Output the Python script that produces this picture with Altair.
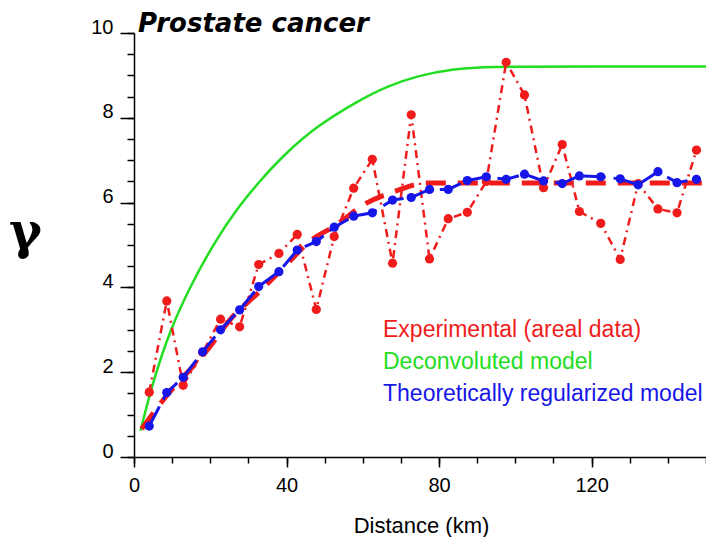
import altair as alt
import pandas as pd

# ---- data ----
distance_km = [4.0, 8.6, 12.9, 18.0, 22.7, 27.7, 32.7, 38.0, 42.8, 47.8,
               52.5, 57.6, 62.5, 67.8, 72.7, 77.5, 82.4, 87.4, 92.4, 97.6,
               102.4, 107.4, 112.3, 116.8, 122.4, 127.5, 132.2, 137.4, 142.4, 147.5]
experimental = [1.53, 3.68, 1.69, 2.47, 3.25, 3.07, 4.54, 4.80, 5.25, 3.48,
                5.20, 6.34, 7.02, 4.57, 8.07, 4.67, 5.62, 5.77, 6.50, 9.31,
                8.54, 6.35, 7.37, 5.79, 5.51, 4.66, 6.45, 5.85, 5.76, 7.24]
regularized = [0.73, 1.52, 1.88, 2.48, 3.00, 3.47, 4.02, 4.37, 4.88, 5.08,
               5.42, 5.68, 5.76, 6.06, 6.12, 6.31, 6.31, 6.52, 6.61, 6.55,
               6.67, 6.51, 6.45, 6.63, 6.61, 6.56, 6.42, 6.73, 6.47, 6.55]

deconv_x = [1.7, 5.1, 9.5, 14.7, 20.8, 26.9, 32.9, 39.0, 47.8, 59.1, 66.5, 74.7, 83.4, 92.1, 120.0, 150.0]
deconv_y = [0.62, 1.82, 3.00, 4.02, 5.02, 5.85, 6.50, 7.10, 7.80, 8.42, 8.75, 9.00, 9.15, 9.21, 9.21, 9.21]

model_x = [2.0, 7.7, 19.9, 25.1, 32.9, 39.9, 46.0, 53.0, 60.8, 68.6, 76.5, 85.0, 150.0]
model_y = [0.66, 1.35, 2.60, 3.23, 3.90, 4.53, 5.08, 5.47, 5.98, 6.27, 6.46, 6.46, 6.46]

x_major = [0, 40, 80, 120]
x_minor = [0, 10, 20, 30, 40, 50, 60, 70, 80, 90, 100, 110, 120, 130, 140, 150]
y_major = [0, 2, 4, 6, 8, 10]
y_minor = [0, 0.5, 1, 1.5, 2, 2.5, 3, 3.5, 4, 4.5, 5, 5.5, 6, 6.5, 7, 7.5, 8, 8.5, 9, 9.5, 10]

legend_labels = ["Experimental (areal data)", "Deconvoluted model", "Theoretically regularized model"]

RED = "#f01c1c"
GREEN = "#22dd22"
BLUE = "#1616e8"

pts = pd.DataFrame({"d": distance_km, "exp": experimental, "reg": regularized})
deconv = pd.DataFrame({"d": deconv_x, "g": deconv_y})
model = pd.DataFrame({"d": model_x, "g": model_y})

xs = alt.Scale(domain=[0, 150], nice=False, zero=False)
ys = alt.Scale(domain=[0, 10], nice=False)

major_x = alt.Axis(values=x_major, tickSize=10, labelPadding=8, labelFlush=False, format="d",
                   title="Distance (km)", titleX=287, titleY=75, titleAlign="center",
                   titleBaseline="alphabetic", titleFontSize=22, titleFont="Liberation Sans",
                   titleFontWeight="normal", orient="bottom")
minor_x = alt.Axis(values=x_minor, tickSize=6, labels=False, domain=False, title="", orient="bottom")
major_y = alt.Axis(values=y_major, tickSize=14, labelPadding=7, labelBaseline="alphabetic", format="d",
                   title="γ", titleAngle=0, titleX=-109, titleY=214, titleAlign="center",
                   titleBaseline="alphabetic", titleFont="DejaVu Serif", titleFontSize=50,
                   titleFontWeight="bold", orient="left")
minor_y = alt.Axis(values=y_minor, tickSize=7, labels=False, domain=False, title="", orient="left")

green = alt.Chart(deconv).mark_line(color=GREEN, strokeWidth=2.5, interpolate="basis").encode(
    x=alt.X("d:Q", scale=xs, axis=minor_x), y=alt.Y("g:Q", scale=ys, axis=minor_y))

model_line = alt.Chart(model).mark_line(color=RED, strokeWidth=5, strokeDash=[20, 12],
                                        interpolate="monotone").encode(
    x=alt.X("d:Q", scale=xs, axis=major_x), y=alt.Y("g:Q", scale=ys, axis=major_y))

exp_line = alt.Chart(pts).mark_line(color=RED, strokeWidth=2.5, strokeDash=[8, 5, 2, 5]).encode(
    x=alt.X("d:Q", scale=xs, axis=None), y=alt.Y("exp:Q", scale=ys, axis=None))
exp_pts = alt.Chart(pts).mark_circle(color=RED, size=85, opacity=1).encode(
    x=alt.X("d:Q", scale=xs, axis=None), y=alt.Y("exp:Q", scale=ys, axis=None))

reg_line = alt.Chart(pts).mark_line(color=BLUE, strokeWidth=3, strokeDash=[22, 8]).encode(
    x=alt.X("d:Q", scale=xs, axis=None), y=alt.Y("reg:Q", scale=ys, axis=None))
reg_pts = alt.Chart(pts).mark_circle(color=BLUE, size=85, opacity=1).encode(
    x=alt.X("d:Q", scale=xs, axis=None), y=alt.Y("reg:Q", scale=ys, axis=None))

one = pd.DataFrame({"a": [0]})
title = alt.Chart(one).mark_text(text="Prostate cancer", align="left", baseline="alphabetic",
                                 font="DejaVu Sans", fontSize=26, fontWeight="bold",
                                 fontStyle="italic", color="black").encode(
    x=alt.value(4), y=alt.value(-1))

leg = []
for lab, col, yy in zip(legend_labels, [RED, GREEN, BLUE], [303.7, 336.3, 367.7]):
    leg.append(alt.Chart(one).mark_text(text=lab, align="left", baseline="alphabetic",
                                        font="Liberation Sans", fontSize=23, color=col).encode(
        x=alt.value(249), y=alt.value(yy)))

chart = alt.layer(green, model_line, exp_line, exp_pts, reg_line, reg_pts, title, *leg).resolve_axis(
    x="independent", y="independent"
).properties(
    width=572, height=424,
    autosize=alt.AutoSizeParams(type="none"),
    padding={"left": 126, "top": 25, "right": 0, "bottom": 80},
).configure_view(stroke=None).configure_axis(
    domainColor="black", domainWidth=1.5, tickColor="black", tickWidth=1.5,
    labelColor="black", labelFont="Liberation Sans", labelFontSize=20, grid=False,
    titleColor="black"
)

chart.save("out.html", embed_options={"renderer": "svg", "actions": False})
